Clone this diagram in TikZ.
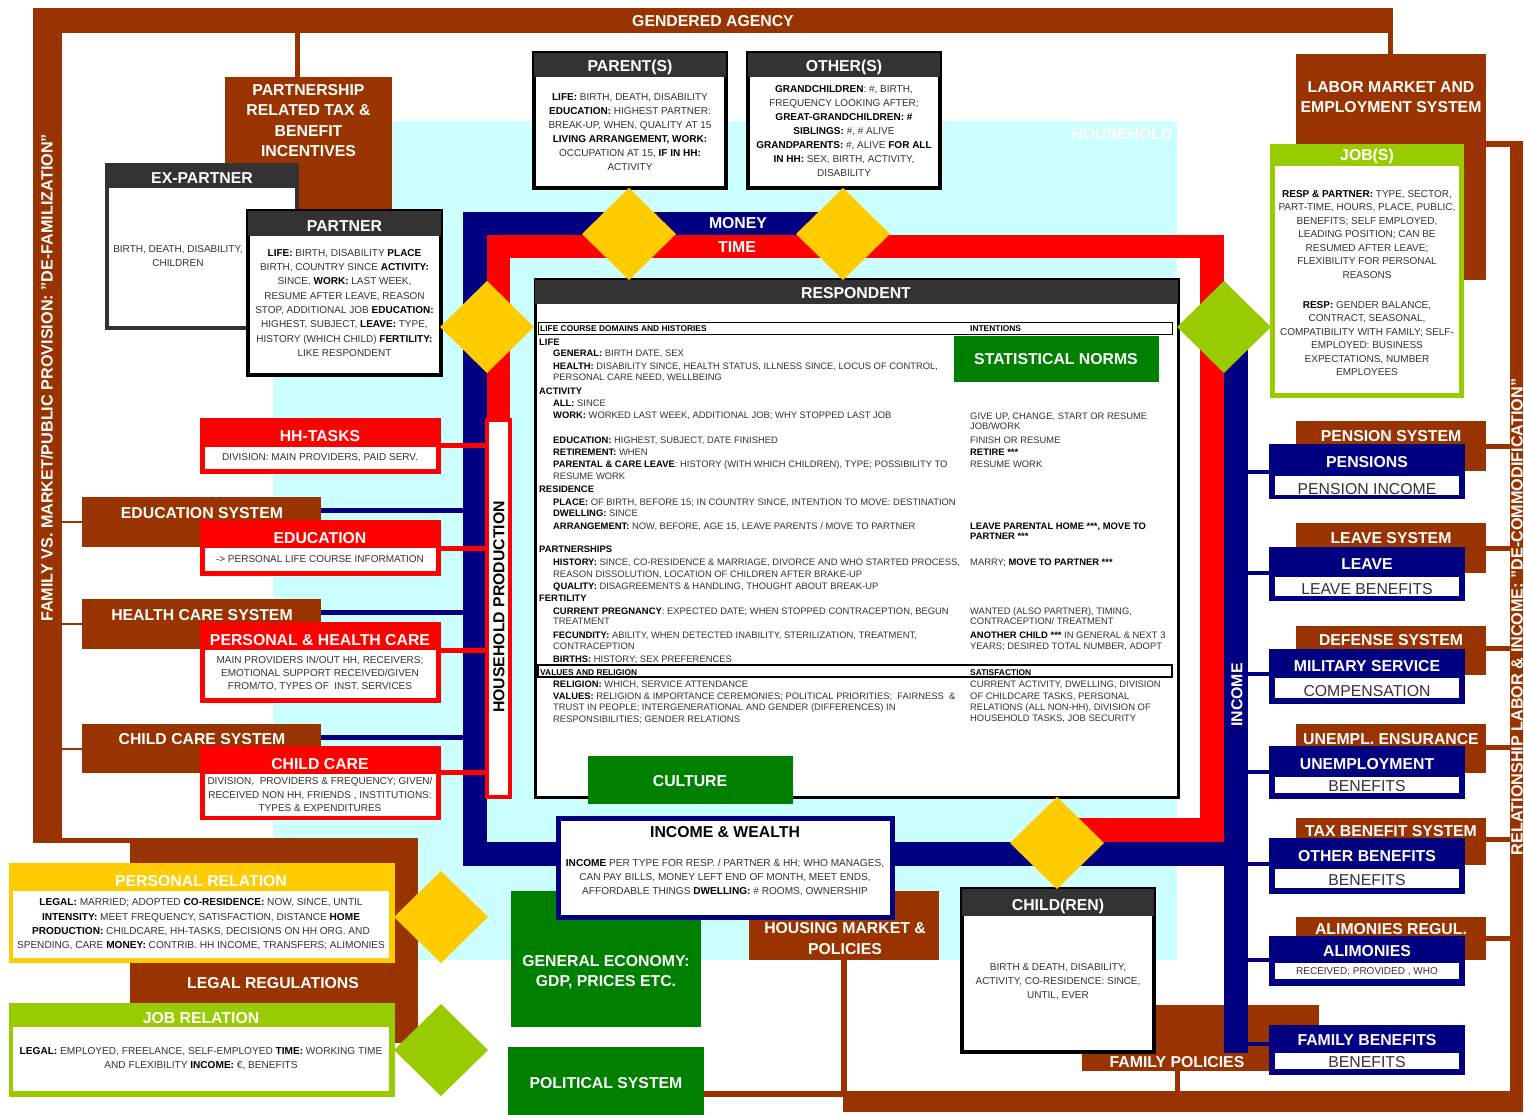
\documentclass[tikz,border=0pt]{standalone}
\usepackage{fontspec}
\setmainfont{Liberation Sans}
\usetikzlibrary{shapes.geometric,fit}
\definecolor{brn}{HTML}{993300}
\definecolor{nvy}{HTML}{000080}
\definecolor{rd}{HTML}{FF0000}
\definecolor{ylw}{HTML}{FFCC00}
\definecolor{lgr}{HTML}{99CC00}
\definecolor{dgr}{HTML}{008000}
\definecolor{cyn}{HTML}{CCFFFF}
\definecolor{hdr}{HTML}{333333}
\definecolor{txt}{HTML}{333333}
\newcommand\bx[6]{\node[fit={(#2,#3) (#4,#5)},inner sep=0pt,outer sep=0pt,#6] (#1) {};}
\newcommand\bk[1]{{\bfseries\color{black}#1}}
\newcounter{lnc}
\newcommand\Ln[3]{\stepcounter{lnc}\edef\lnnm{ln\number\value{lnc}}\node[rt] (\lnnm) at (#1,#2+3.3) {#3};}
\newcommand\Lh[3]{\stepcounter{lnc}\edef\lnnm{ln\number\value{lnc}}\node[rth] (\lnnm) at (#1,#2+3) {#3};}
\newcommand\rsys[6]{\bx{#1}{1296}{#2}{1486}{#3}{fill=brn}
 \node[ttl] (#1t) at (1391,#5) {#4};
 \draw[bline] (#1.east |- 0,#6) -- (rightbar.west |- 0,#6);}
\newcommand\rnav[6]{\bx{#1}{1269}{#2}{1465}{#3}{fill=nvy}
 \node[ttl] (#1t) at (1367,#5) {#4};
 \draw[nline,line width=4pt] (income.east |- 0,#6) -- (#1.west |- 0,#6);}
\newcommand\rstrip[6]{\bx{#1}{1275}{#2}{1459}{#3}{fill=white}
 \begin{scope}\clip (#1.south west) rectangle (#1.north east);
 \node[#6] (#1t) at (1367,#5) {#4};\end{scope}}
\newcommand\lsys[6]{\bx{#1}{82}{#2}{321}{#3}{fill=brn}
 \node[ttl] (#1t) at (202,#5) {#4};
 \draw[brn,line width=2pt] (leftbar.east |- #1.west) -- (#1.west);
 \draw[nline] (#1.east |- 0,#6) -- (nvleft.west |- 0,#6);}
\newcommand\lred[8]{\bx{#1}{200}{#2}{441}{#3}{fill=rd}
 \bx{#1i}{205}{#4}{436}{#5}{fill=white}
 \node[ttl] (#1t) at (320,#7) {#6};
 \draw[rline] (#1.east |- 0,#8) -- (hp.west |- 0,#8);}
\begin{document}
\begin{tikzpicture}[x=1pt,y=-1pt,
 ttl/.style={font=\fontsize{15.8}{20.5}\selectfont\bfseries,text=white,inner sep=0pt,align=center},
 sm/.style={font=\fontsize{10}{14}\selectfont,text=txt,inner sep=0pt,align=center},
 rt/.style={font=\fontsize{9.4}{11}\selectfont,text=txt,inner sep=0pt,anchor=base west},
 rth/.style={font=\fontsize{8.4}{10}\selectfont\bfseries,text=black,inner sep=0pt,anchor=base west},
 big/.style={font=\fontsize{15.8}{17}\selectfont,text=txt,inner sep=0pt},
 dia/.style={diamond,minimum width=94pt,minimum height=92pt,inner sep=0pt,outer sep=0pt},
 bline/.style={draw=brn,line width=5pt},
 nline/.style={draw=nvy,line width=5pt},
 rline/.style={draw=rd,line width=5pt}]
\useasboundingbox (0,0) rectangle (1524,1115);
\fill[white] (0,0) rectangle (1524,1115);
% ---------- brown outer frame
\bx{topbar}{33}{8}{1393}{33}{fill=brn}
\bx{leftbar}{33}{8}{62}{843}{fill=brn}
\bx{rightbar}{1510}{141}{1523}{1112}{fill=brn}
\bx{botbar}{843}{1091}{1523}{1112}{fill=brn}
\node[ttl] (ga) at (713,21) {GENDERED AGENCY};
\node[ttl,font=\fontsize{16.2}{18}\selectfont\bfseries,rotate=90] (famtxt) at (47,378) {FAMILY VS. MARKET/PUBLIC PROVISION: "DE-FAMILIZATION"};
\node[ttl,font=\fontsize{16.2}{18}\selectfont\bfseries,rotate=90] (comtxt) at (1517,617) {RELATIONSHIP LABOR \& INCOME: "DE-COMMODIFICATION"};
% ---------- household
\bx{household}{273}{121}{1177}{960}{fill=cyn}
\node[ttl] (hhlbl) at (1122,134) {HOUSEHOLD};
% ---------- legal regulations block
\bx{lbot}{33}{838}{418}{843}{fill=brn}
\bx{legal}{130}{838}{418}{1043}{fill=brn}
\node[ttl] (legalt) at (273,983) {LEGAL REGULATIONS};
% ---------- money / time frames
\bx{nvtop}{463}{212}{843}{235}{fill=nvy}
\bx{nvleft}{463}{212}{487}{866}{fill=nvy}
\bx{nvbot}{463}{842}{1248}{866}{fill=nvy}
\bx{rdtop}{487}{235}{1224}{258}{fill=rd}
\bx{rdleft}{487}{235}{510}{420}{fill=rd}
\bx{rdright}{1200}{235}{1224}{842}{fill=rd}
\bx{rdbot}{1057}{818}{1224}{842}{fill=rd}
\node[ttl] (money) at (738,223) {MONEY};
\node[ttl] (time) at (737,247) {TIME};
% ---------- family policies and income bar
\bx{fampol}{1082}{1005}{1319}{1071}{fill=brn}
\draw[bline] (fampol.south -| 1177,0) -- (botbar.north -| 1177,0);
\bx{income}{1224}{326}{1248}{1053}{fill=nvy}
\node[ttl,rotate=90] (inct) at (1237,695) {INCOME};
% ---------- economy, housing, politics
\bx{geco}{511}{891}{701}{1027}{fill=dgr}
\node[ttl] (gecot) at (606,972) {GENERAL ECONOMY:\\GDP, PRICES ETC.};
\bx{housing}{749}{891}{939}{960}{fill=brn}
\node[ttl] (housingt) at (845,938.5) {HOUSING MARKET \&\\POLICIES};
\bx{pol}{508}{1047}{704}{1115}{fill=dgr}
\node[ttl] (polt) at (606,1083) {POLITICAL SYSTEM};
\draw[bline,line width=6pt] (pol.east |- 0,1094) -- (botbar.west |- 0,1094);
\draw[bline,line width=6pt] (housing.south -| 844,0) -- (botbar.north -| 844,0);
% ---------- income & wealth
\bx{incw}{558}{818}{892}{917}{fill=white,draw=nvy,line width=5pt}
\node[font=\fontsize{15.8}{17}\selectfont\bfseries,text=black,inner sep=0pt] (incwt) at (725,832) {INCOME \& WEALTH};
\node[sm,font=\fontsize{10.1}{14}\selectfont] (incwb) at (725,877) {\bk{INCOME} PER TYPE FOR RESP. / PARTNER \& HH; WHO MANAGES,\\CAN PAY BILLS, MONEY LEFT END OF MONTH, MEET ENDS,\\AFFORDABLE THINGS \bk{DWELLING:} \# ROOMS, OWNERSHIP};
% ---------- child(ren)
\bx{child}{962}{889}{1154}{1052}{fill=white,draw=black,line width=4pt}
\bx{chhdr}{962}{889}{1154}{916}{fill=hdr}
\node[ttl] (cht) at (1058,906) {CHILD(REN)};
\node[sm] (chb) at (1058,982) {BIRTH \& DEATH, DISABILITY,\\ACTIVITY, CO-RESIDENCE: SINCE,\\UNTIL, EVER};
\node[ttl] (fampolt) at (1177,1062) {FAMILY POLICIES};
% ---------- respondent
\bx{resp}{535}{280}{1178}{797}{fill=white,draw=black,line width=3pt}
\bx{resphdr}{535}{280}{1178}{304}{fill=hdr}
\node[ttl] (respt) at (856,293) {RESPONDENT};
\bx{lcrow}{538}{323}{1172}{335}{draw=black,line width=1pt}
\bx{vrrow}{538}{665}{1172}{677}{draw=black,line width=1.5pt}
\bx{statn}{954}{336}{1159}{382}{fill=dgr}
\node[ttl] (statnt) at (1056,359) {STATISTICAL NORMS};
\Lh{540}{329}{LIFE COURSE DOMAINS AND HISTORIES}
\Lh{970}{329}{INTENTIONS}
\Lh{540}{672}{VALUES AND RELIGION}
\Lh{970}{672}{SATISFACTION}
\Ln{539}{342}{\bk{LIFE}}
\Ln{553}{353}{\bk{GENERAL:} BIRTH DATE, SEX}
\Ln{553}{366}{\bk{HEALTH:} DISABILITY SINCE, HEALTH STATUS, ILLNESS SINCE, LOCUS OF CONTROL,}
\Ln{553}{377}{PERSONAL CARE NEED, WELLBEING}
\Ln{539}{391}{\bk{ACTIVITY}}
\Ln{553}{403}{\bk{ALL:} SINCE}
\Ln{553}{415}{\bk{WORK:} WORKED LAST WEEK, ADDITIONAL JOB; WHY STOPPED LAST JOB}
\Ln{553}{440}{\bk{EDUCATION:} HIGHEST, SUBJECT, DATE FINISHED}
\Ln{553}{452}{\bk{RETIREMENT:} WHEN}
\Ln{553}{464}{\bk{PARENTAL \& CARE LEAVE}: HISTORY (WITH WHICH CHILDREN), TYPE; POSSIBILITY TO}
\Ln{553}{476}{RESUME WORK}
\Ln{539}{489}{\bk{RESIDENCE}}
\Ln{553}{502}{\bk{PLACE:} OF BIRTH, BEFORE 15; IN COUNTRY SINCE, INTENTION TO MOVE: DESTINATION}
\Ln{553}{513}{\bk{DWELLING:} SINCE}
\Ln{553}{526}{\bk{ARRANGEMENT:} NOW, BEFORE, AGE 15, LEAVE PARENTS / MOVE TO PARTNER}
\Ln{539}{549}{\bk{PARTNERSHIPS}}
\Ln{553}{562}{\bk{HISTORY:} SINCE, CO-RESIDENCE \& MARRIAGE, DIVORCE AND WHO STARTED PROCESS,}
\Ln{553}{574}{REASON DISSOLUTION, LOCATION OF CHILDREN AFTER BRAKE-UP}
\Ln{553}{586}{\bk{QUALITY:} DISAGREEMENTS \& HANDLING, THOUGHT ABOUT BREAK-UP}
\Ln{539}{598}{\bk{FERTILITY}}
\Ln{553}{611}{\bk{CURRENT PREGNANCY}: EXPECTED DATE; WHEN STOPPED CONTRACEPTION, BEGUN}
\Ln{553}{621}{TREATMENT}
\Ln{553}{635}{\bk{FECUNDITY:} ABILITY, WHEN DETECTED INABILITY, STERILIZATION, TREATMENT,}
\Ln{553}{646}{CONTRACEPTION}
\Ln{553}{659}{\bk{BIRTHS:} HISTORY; SEX PREFERENCES}
\Ln{553}{684}{\bk{RELIGION:} WHICH, SERVICE ATTENDANCE}
\Ln{553}{696}{\bk{VALUES:} RELIGION \& IMPORTANCE CEREMONIES; POLITICAL PRIORITIES;~ FAIRNESS~ \&}
\Ln{553}{707}{TRUST IN PEOPLE; INTERGENERATIONAL AND GENDER (DIFFERENCES) IN}
\Ln{553}{719}{RESPONSIBILITIES; GENDER RELATIONS}
\Ln{970}{416}{GIVE UP, CHANGE, START OR RESUME}
\Ln{970}{426}{JOB/WORK}
\Ln{970}{440}{FINISH OR RESUME}
\Ln{970}{452}{\bk{RETIRE ***}}
\Ln{970}{464}{RESUME WORK}
\Ln{970}{526}{\bk{LEAVE PARENTAL HOME ***, MOVE TO}}
\Ln{970}{536}{\bk{PARTNER ***}}
\Ln{970}{562}{MARRY; \bk{MOVE TO PARTNER ***}}
\Ln{970}{611}{WANTED (ALSO PARTNER), TIMING,}
\Ln{970}{621}{CONTRACEPTION/ TREATMENT}
\Ln{970}{635}{\bk{ANOTHER CHILD ***} IN GENERAL \& NEXT 3}
\Ln{970}{646}{YEARS; DESIRED TOTAL NUMBER, ADOPT}
\Ln{970}{684}{CURRENT ACTIVITY, DWELLING, DIVISION}
\Ln{970}{696}{OF CHILDCARE TASKS, PERSONAL}
\Ln{970}{707}{RELATIONS (ALL NON-HH), DIVISION OF}
\Ln{970}{718}{HOUSEHOLD TASKS, JOB SECURITY}
\bx{culture}{588}{756}{793}{804}{fill=dgr}
\node[ttl] (culturet) at (690,781) {CULTURE};
% ---------- top boxes
\bx{par}{534}{53}{726}{188}{fill=white,draw=black,line width=4pt}
\bx{parhdr}{534}{53}{726}{77}{fill=hdr}
\node[ttl] (part) at (630,67) {PARENT(S)};
\node[sm] (parb) at (630,132) {\bk{LIFE:} BIRTH, DEATH, DISABILITY\\\bk{EDUCATION:} HIGHEST PARTNER:\\BREAK-UP, WHEN, QUALITY AT 15\\\bk{LIVING ARRANGEMENT, WORK:}\\OCCUPATION AT 15, \bk{IF IN HH:}\\ACTIVITY};
\bx{othr}{748}{53}{940}{188}{fill=white,draw=black,line width=4pt}
\bx{othrhdr}{748}{53}{940}{77}{fill=hdr}
\node[ttl] (othrt) at (844,67) {OTHER(S)};
\node[sm] (othrb) at (844,131.5) {\bk{GRANDCHILDREN}: \#, BIRTH,\\FREQUENCY LOOKING AFTER;\\\bk{GREAT-GRANDCHILDREN: \#}\\\bk{SIBLINGS:} \#, \# ALIVE\\\bk{GRANDPARENTS:} \#, ALIVE \bk{FOR ALL}\\\bk{IN HH:} SEX, BIRTH, ACTIVITY,\\DISABILITY};
% ---------- partner side
\bx{ptax}{225}{77}{392}{210}{fill=brn}
\draw[bline] (topbar.south -| 297,0) -- (ptax.north -| 297,0);
\node[ttl] (ptaxt) at (308.5,120.5) {PARTNERSHIP\\RELATED TAX \&\\BENEFIT\\INCENTIVES};
\bx{expart}{107}{165}{297}{328}{fill=white,draw=hdr,line width=4pt}
\bx{exhdr}{107}{165}{297}{188}{fill=hdr}
\node[ttl] (expartt) at (202,178) {EX-PARTNER};
\node[sm] (expartb) at (178,256.5) {BIRTH, DEATH, DISABILITY,\\CHILDREN};
\bx{partner}{248}{211}{441}{375}{fill=white,draw=black,line width=4pt}
\bx{phdr}{248}{211}{441}{236}{fill=hdr}
\node[ttl] (partnert) at (344.5,226) {PARTNER};
\node[sm,font=\fontsize{10}{14.3}\selectfont] (partnerb) at (344.5,303) {\bk{LIFE:} BIRTH, DISABILITY \bk{PLACE}\\BIRTH, COUNTRY SINCE \bk{ACTIVITY:}\\SINCE, \bk{WORK:} LAST WEEK,\\RESUME AFTER LEAVE, REASON\\STOP, ADDITIONAL JOB \bk{EDUCATION:}\\HIGHEST, SUBJECT, \bk{LEAVE:} TYPE,\\HISTORY (WHICH CHILD) \bk{FERTILITY:}\\LIKE RESPONDENT};
% ---------- labor market & jobs
\bx{labor}{1296}{54}{1486}{280}{fill=brn}
\draw[bline] (topbar.south -| 1390.5,0) -- (labor.north -| 1390.5,0);
\draw[bline,line width=6pt] (labor.east |- 0,144) -- (rightbar.west |- 0,144);
\node[ttl] (labort) at (1391,97) {LABOR MARKET AND\\EMPLOYMENT SYSTEM};
\bx{jobs}{1270}{144}{1464}{398}{fill=lgr}
\bx{jobsi}{1275}{166}{1459}{393}{fill=white}
\node[ttl] (jobst) at (1367,156) {JOB(S)};
\node[sm,font=\fontsize{10}{13.5}\selectfont] (jobsb) at (1367,234.5) {\bk{RESP \& PARTNER:} TYPE, SECTOR,\\PART-TIME, HOURS, PLACE, PUBLIC,\\BENEFITS; SELF EMPLOYED,\\LEADING POSITION; CAN BE\\RESUMED AFTER LEAVE;\\FLEXIBILITY FOR PERSONAL\\REASONS};
\node[sm,font=\fontsize{10}{13.4}\selectfont] (jobsc) at (1367,338.5) {\bk{RESP:} GENDER BALANCE,\\CONTRACT, SEASONAL,\\COMPATIBILITY WITH FAMILY; SELF-\\EMPLOYED: BUSINESS\\EXPECTATIONS, NUMBER\\EMPLOYEES};
% ---------- household production and left column
\bx{hp}{487}{420}{510}{797}{fill=white,draw=rd,line width=4pt}
\node[font=\fontsize{15.8}{17}\selectfont\bfseries,text=black,rotate=90,inner sep=0pt] (hpt) at (499,607) {HOUSEHOLD PRODUCTION};
\lsys{edusys}{497}{547}{EDUCATION SYSTEM}{513}{510}
\lsys{hcsys}{599}{649}{HEALTH CARE SYSTEM}{615}{612}
\lsys{ccsys}{724}{773}{CHILD CARE SYSTEM}{739}{737}
\lred{hht}{418}{474}{447}{469}{HH-TASKS}{436}{445}
\node[sm] (hhtb) at (320,458) {DIVISION: MAIN PROVIDERS, PAID SERV.};
\lred{edu}{520}{576}{548}{571}{EDUCATION}{538}{548}
\node[sm] (edub) at (320,559.5) {-> PERSONAL LIFE COURSE INFORMATION};
\lred{phc}{622}{703}{650}{698}{PERSONAL \& HEALTH CARE}{640}{650}
\node[sm,font=\fontsize{10}{13}\selectfont] (phcb) at (320,674) {MAIN PROVIDERS IN/OUT HH, RECEIVERS;\\EMOTIONAL SUPPORT RECEIVED/GIVEN\\FROM/TO, TYPES OF~ INST. SERVICES};
\lred{cc}{746}{820}{774}{816}{CHILD CARE}{764}{772}
\node[sm,font=\fontsize{10}{13.5}\selectfont] (ccb) at (320,794.5) {DIVISION,~ PROVIDERS \& FREQUENCY; GIVEN/\\RECEIVED NON HH, FRIENDS , INSTITUTIONS:\\TYPES \& EXPENDITURES};
% ---------- right column
\rsys{pensys}{421}{471}{PENSION SYSTEM}{436}{446}
\rnav{pens}{444}{499}{PENSIONS}{462}{472}
\rstrip{penss}{476}{495}{PENSION INCOME}{489}{big}
\rsys{leavesys}{523}{573}{LEAVE SYSTEM}{538}{548}
\rnav{leave}{547}{601}{LEAVE}{564}{573}
\rstrip{leaves}{577}{596}{LEAVE BENEFITS}{589}{big}
\rsys{defsys}{626}{675}{DEFENSE SYSTEM}{640}{648}
\rnav{mil}{649}{704}{MILITARY SERVICE}{666}{674}
\rstrip{mils}{678}{698}{COMPENSATION}{691}{big}
\rsys{unsys}{724}{773}{UNEMPL. ENSURANCE}{739}{747}
\rnav{unemp}{746}{799}{UNEMPLOYMENT}{764}{772}
\rstrip{unemps}{777}{793}{BENEFITS}{786}{big}
\rsys{taxsys}{818}{865}{TAX BENEFIT SYSTEM}{831}{839}
\rnav{othb}{838}{894}{OTHER BENEFITS}{856}{864}
\rstrip{othbs}{869}{888}{BENEFITS}{880}{big}
\rsys{alsys}{917}{960}{ALIMONIES REGUL.}{929}{938}
\rnav{alim}{936}{986}{ALIMONIES}{951}{960}
\rstrip{alims}{963}{979}{RECEIVED; PROVIDED , WHO}{972}{sm}
\rnav{famben}{1025}{1075}{FAMILY BENEFITS}{1040}{1044}
\rstrip{fambens}{1053}{1069}{BENEFITS}{1062}{big}
% ---------- relations bottom left
\bx{persrel}{9}{863}{395}{963}{fill=ylw}
\bx{persreli}{13}{891}{389}{958}{fill=white}
\node[ttl] (persrelt) at (201,881) {PERSONAL RELATION};
\node[sm,font=\fontsize{10.1}{14.3}\selectfont] (persrelb) at (201,924.5) {\bk{LEGAL:} MARRIED; ADOPTED \bk{CO-RESIDENCE:} NOW, SINCE, UNTIL\\\bk{INTENSITY:} MEET FREQUENCY, SATISFACTION, DISTANCE \bk{HOME}\\\bk{PRODUCTION:} CHILDCARE, HH-TASKS, DECISIONS ON HH ORG. AND\\SPENDING, CARE \bk{MONEY:} CONTRIB. HH INCOME, TRANSFERS; ALIMONIES};
\bx{jobrel}{9}{1003}{395}{1097}{fill=lgr}
\bx{jobreli}{13}{1027}{389}{1091}{fill=white}
\node[ttl] (jobrelt) at (201,1018) {JOB RELATION};
\node[sm,font=\fontsize{10.1}{14}\selectfont] (jobrelb) at (201,1059) {\bk{LEGAL:} EMPLOYED, FREELANCE, SELF-EMPLOYED \bk{TIME:} WORKING TIME\\AND FLEXIBILITY \bk{INCOME:} €, BENEFITS};
% ---------- diamonds
\node[dia,fill=ylw] (dpar) at (629,234) {};
\node[dia,fill=ylw] (doth) at (843,234) {};
\node[dia,fill=ylw] (dpart) at (487,327) {};
\node[dia,fill=lgr] (djob) at (1224,327) {};
\node[dia,fill=ylw] (dchild) at (1057,843) {};
\node[dia,fill=ylw] (dpers) at (441,917) {};
\node[dia,fill=lgr] (djobrel) at (441,1050) {};
\end{tikzpicture}
\end{document}
